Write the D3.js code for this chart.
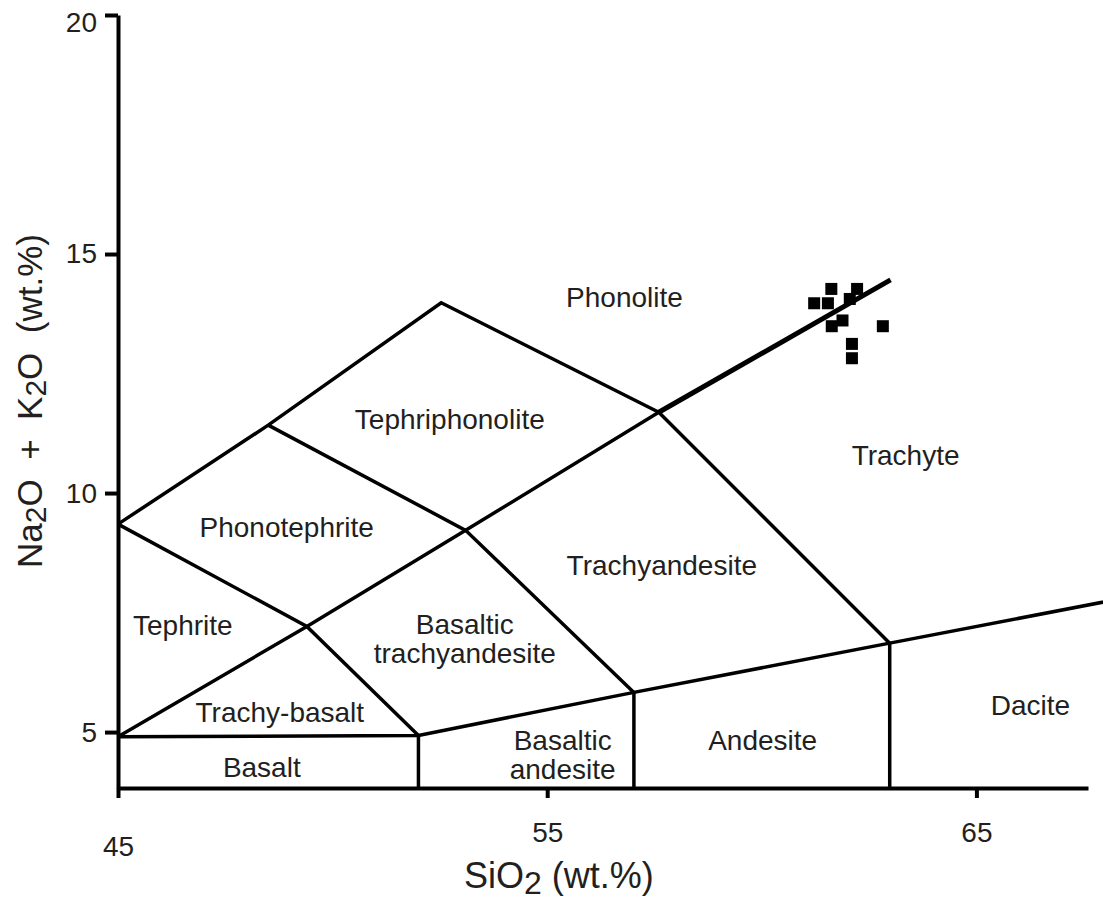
<!DOCTYPE html>
<html><head><meta charset="utf-8">
<script src="https://cdn.jsdelivr.net/npm/d3@7/dist/d3.min.js"></script>
<style>
body{margin:0;background:#fff}
text{font-family:"Liberation Sans",Arial,sans-serif;fill:#231f20}
</style>
</head><body>
<svg id="chart" width="1103" height="902"></svg>
<script>
// ---- data ----
const xTicks = [45, 55, 65];
const yTicks = [5, 10, 15, 20];
const xDomain = [45, 67.6];
const yDomain = [3.83, 20];

// sample analyses (SiO2, Na2O+K2O)
const sampleSiO2 = [61.62, 62.22, 61.22, 61.54, 62.05, 61.88, 61.63, 62.82, 62.10, 62.10];
const sampleAlk  = [14.27, 14.27, 13.97, 13.97, 14.06, 13.61, 13.49, 13.49, 13.12, 12.82];

// TAS field boundaries (SiO2, Na2O+K2O)
const boundaries = [
  [[45, 4.9], [49.4, 7.21], [53.1, 9.22], [57.6, 11.69]],
  [[45, 9.35], [48.5, 11.42], [52.53, 13.98], [57.6, 11.69]],
  [[45, 9.35], [49.4, 7.21], [52.0, 4.93]],
  [[48.5, 11.42], [53.1, 9.22], [57.02, 5.83]],
  [[57.6, 11.69], [62.98, 6.86]],
  [[45, 4.9], [52.0, 4.93], [57.02, 5.83], [62.98, 6.86], [69, 7.9]],
  [[52.0, 4.93], [52.0, 3.83]],
  [[57.02, 5.83], [57.02, 3.83]],
  [[62.98, 6.86], [62.98, 3.83]]
];
const phonoliteTrachyteLine = [[57.6, 11.69], [63.0, 14.46]];

// field names and label anchors (SiO2, Na2O+K2O)
const fieldNames = ["Phonolite", "Tephriphonolite", "Trachyte", "Phonotephrite", "Trachyandesite",
  "Tephrite", "Basaltic\ntrachyandesite", "Trachy-basalt", "Basalt", "Basaltic\nandesite", "Andesite", "Dacite"];
const fieldX = [56.80, 52.73, 63.35, 48.93, 57.67, 46.51, 53.08, 48.77, 48.35, 55.36, 60.02, 66.26];
const fieldY = [14.11, 11.55, 10.80, 9.29, 8.50, 7.24, 6.95, 5.42, 4.27, 4.54, 4.83, 5.57];

// ---- drawing ----
const svg = d3.select("#chart");
const x = d3.scaleLinear().domain(xDomain).range([118, 1088]);
const y = d3.scaleLinear().domain(yDomain).range([788, 15]);
const line = d3.line().x(d => x(d[0])).y(d => y(d[1]));

svg.append("g").selectAll("path").data(boundaries).join("path")
  .attr("d", line).attr("fill", "none").attr("stroke", "#000")
  .attr("stroke-width", 3.5).attr("stroke-linejoin", "miter");

// samples
svg.append("g").selectAll("rect").data(sampleSiO2).join("rect")
  .attr("x", (d, i) => x(d) - 6).attr("y", (d, i) => y(sampleAlk[i]) - 6)
  .attr("width", 12).attr("height", 12).attr("fill", "#000");

svg.append("path").datum(phonoliteTrachyteLine).attr("d", line)
  .attr("fill", "none").attr("stroke", "#000").attr("stroke-width", 5);

// axes
const xAxis = svg.append("g").attr("transform", `translate(0,${y(yDomain[0])})`)
  .call(d3.axisBottom(x).tickValues(xTicks).tickSize(10).tickSizeOuter(0).tickPadding(24).tickFormat(d3.format("d")));
const yAxis = svg.append("g").attr("transform", `translate(${x(xDomain[0])},0)`)
  .call(d3.axisLeft(y).tickValues(yTicks).tickSize(13).tickSizeOuter(0).tickPadding(8).tickFormat(d3.format("d")));
[xAxis, yAxis].forEach(g => {
  g.select(".domain").attr("stroke", "#000").attr("stroke-width", 4);
  g.selectAll(".tick line").attr("stroke", "#000").attr("stroke-width", 4);
  g.selectAll(".tick text").attr("fill", "#231f20").style("font-size", "28px")
    .style("font-family", '"Liberation Sans",Arial,sans-serif');
});
xAxis.selectAll(".tick text").filter(d => d === 45).attr("dy", "1.2em");
yAxis.selectAll(".tick text").filter(d => d === 20).attr("dy", "0.6em");

// field labels
const lbl = svg.append("g").selectAll("text").data(fieldNames).join("text")
  .attr("text-anchor", "middle").style("font-size", "28px")
  .attr("transform", (d, i) => `translate(${x(fieldX[i])},${y(fieldY[i])})`);
lbl.each(function (d) {
  const parts = d.split("\n");
  const t = d3.select(this);
  parts.forEach((p, k) => {
    t.append("tspan").attr("x", 0)
      .attr("y", (k - (parts.length - 1) / 2) * 29 + 10).text(p);
  });
});

// axis titles
const xt = svg.append("text").attr("x", x(55.27)).attr("y", 888)
  .attr("text-anchor", "middle").style("font-size", "36px").style("white-space", "pre");
xt.append("tspan").text("SiO");
xt.append("tspan").attr("dy", 6).style("font-size", "32px").text("2");
xt.append("tspan").attr("dy", -6).text(" (wt.%)");

const yt = svg.append("text").attr("transform", "translate(42,401) rotate(-90)")
  .attr("text-anchor", "middle").style("font-size", "35px").style("white-space", "pre");
yt.append("tspan").text("Na");
yt.append("tspan").attr("dy", 4).style("font-size", "30px").text("2");
yt.append("tspan").attr("dy", -4).text("O  +  K");
yt.append("tspan").attr("dy", 4).style("font-size", "30px").text("2");
yt.append("tspan").attr("dy", -4).text("O  (wt.%)");
</script>
</body></html>
